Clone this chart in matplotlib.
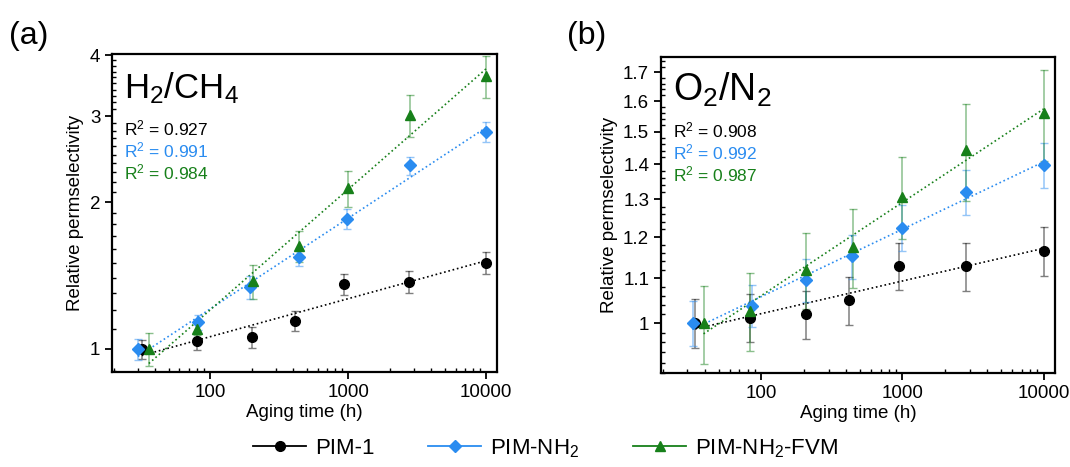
# Relative permselectivity vs aging time, dwa panele: (a) H2/CH4, (b) O2/N2
import numpy as np
import matplotlib
matplotlib.use("Agg")
import matplotlib.pyplot as plt
from matplotlib.ticker import FixedLocator, NullFormatter, LogLocator
from matplotlib.lines import Line2D

plt.rcParams['font.family'] = ['Liberation Sans', 'DejaVu Sans']
plt.rcParams['mathtext.default'] = 'regular'

# --- dane ---
labels = ['PIM-1', r'PIM-NH$_2$', r'PIM-NH$_2$-FVM']

# (a) H2/CH4
h2_t_pim1 = [32, 80, 202, 410, 930, 2770, 10000]
h2_y_pim1 = [1.0, 1.038, 1.057, 1.14, 1.357, 1.374, 1.503]
h2_e_pim1 = [0.045, 0.045, 0.053, 0.054, 0.07, 0.07, 0.08]

h2_t_nh2 = [30, 82, 194, 440, 975, 2800, 10000]
h2_y_nh2 = [1.0, 1.136, 1.338, 1.546, 1.849, 2.377, 2.78]
h2_e_nh2 = [0.05, 0.04, 0.07, 0.065, 0.09, 0.1, 0.13]

h2_t_fvm = [36, 80, 204, 440, 1000, 2800, 10000]
h2_y_fvm = [1.0, 1.099, 1.376, 1.628, 2.133, 3.02, 3.63]
h2_e_fvm = [0.078, 0.03, 0.11, 0.12, 0.18, 0.3, 0.36]

h2_r2 = ['0.927', '0.991', '0.984']

# (b) O2/N2
o2_t_pim1 = [34, 83, 206, 419, 946, 2810, 10000]
o2_y_pim1 = [1.0, 1.012, 1.019, 1.05, 1.129, 1.128, 1.165]
o2_e_pim1 = [0.052, 0.052, 0.052, 0.053, 0.057, 0.058, 0.06]

o2_t_nh2 = [32.6, 86, 206, 442, 1000, 2800, 10000]
o2_y_nh2 = [1.0, 1.038, 1.096, 1.152, 1.224, 1.321, 1.398]
o2_e_nh2 = [0.047, 0.047, 0.05, 0.054, 0.06, 0.063, 0.066]

o2_t_fvm = [39, 83, 206, 445, 1000, 2800, 10000]
o2_y_fvm = [1.0, 1.027, 1.12, 1.175, 1.307, 1.442, 1.56]
o2_e_fvm = [0.082, 0.085, 0.09, 0.097, 0.113, 0.147, 0.15]

o2_r2 = ['0.908', '0.992', '0.987']

colors = ['black', '#2a8cf0', '#17801a']
markers = ['o', 'D', '^']
msizes = [7, 6.5, 7.5]

fig = plt.figure(figsize=(10.7, 4.67), dpi=100)
ax1 = fig.add_axes([0.1047, 0.2034, 0.36, 0.681])
ax2 = fig.add_axes([0.6178, 0.2013, 0.368, 0.677])


def draw_panel(ax, series, r2, title, title_size):
    for (t, y, e), c, m, ms in zip(series, colors, markers, msizes):
        t = np.array(t)
        y = np.array(y)
        # dopasowanie potęgowe (prosta w log-log)
        a, b = np.polyfit(np.log10(t), np.log10(y), 1)
        tt = np.array([t.min(), t.max()])
        ax.plot(tt, 10 ** (a * np.log10(tt) + b), ls=':', color=c, lw=1.2, zorder=2)
        ax.errorbar(t, y, yerr=e, fmt='none', ecolor=c, alpha=0.5,
                    elinewidth=1.1, capsize=3, capthick=1, zorder=3)
        ax.plot(t, y, ls='none', marker=m, color=c, ms=ms, zorder=4)

    ax.set_xscale('log')
    ax.set_yscale('log')
    ax.set_xlim(19.5, 12000)
    ax.xaxis.set_major_locator(FixedLocator([100, 1000, 10000]))
    ax.set_xticklabels(['100', '1000', '10000'])
    ax.xaxis.set_minor_locator(LogLocator(base=10, subs=np.arange(2, 10)))
    ax.xaxis.set_minor_formatter(NullFormatter())

    ax.text(0.03, 0.86, title, transform=ax.transAxes, fontsize=title_size)
    for i, (txt, c) in enumerate(zip(r2, colors)):
        ax.text(0.03, 0.745 - i * 0.069, r'R$^2$ = ' + txt, transform=ax.transAxes,
                fontsize=12.5, color=c)

    ax.set_xlabel('Aging time (h)', fontsize=13.5, labelpad=2)
    ax.set_ylabel('Relative permselectivity', fontsize=13.5)
    ax.tick_params(which='major', direction='out', length=5, width=1.3, labelsize=13.5)
    ax.tick_params(which='minor', direction='in', length=3, width=1)
    for s in ax.spines.values():
        s.set_linewidth(1.6)


draw_panel(ax1,
           [(h2_t_pim1, h2_y_pim1, h2_e_pim1),
            (h2_t_nh2, h2_y_nh2, h2_e_nh2),
            (h2_t_fvm, h2_y_fvm, h2_e_fvm)],
           h2_r2, r'H$_2$/CH$_4$', 25)
ax1.set_ylim(0.897, 4.02)
ax1.yaxis.set_major_locator(FixedLocator([1, 2, 3, 4]))
ax1.set_yticklabels(['1', '2', '3', '4'])
ax1.yaxis.set_minor_locator(FixedLocator(np.arange(0.9, 4.01, 0.1)))
ax1.yaxis.set_minor_formatter(NullFormatter())

draw_panel(ax2,
           [(o2_t_pim1, o2_y_pim1, o2_e_pim1),
            (o2_t_nh2, o2_y_nh2, o2_e_nh2),
            (o2_t_fvm, o2_y_fvm, o2_e_fvm)],
           o2_r2, r'O$_2$/N$_2$', 27)
ax2.set_ylim(0.90, 1.757)
yt = [1, 1.1, 1.2, 1.3, 1.4, 1.5, 1.6, 1.7]
ax2.yaxis.set_major_locator(FixedLocator(yt))
ax2.set_yticklabels(['1', '1.1', '1.2', '1.3', '1.4', '1.5', '1.6', '1.7'])
ax2.yaxis.set_minor_locator(FixedLocator(np.arange(0.9, 1.76, 0.02)))
ax2.yaxis.set_minor_formatter(NullFormatter())

# literki paneli
fig.text(0.008, 0.905, '(a)', fontsize=23)
fig.text(0.530, 0.905, '(b)', fontsize=23)

# wspólna legenda na dole
handles = [Line2D([], [], color=c, marker=m, ms=ms, lw=1.3)
           for c, m, ms in zip(colors, markers, msizes)]
fig.legend(handles, labels, loc='center', bbox_to_anchor=(0.51, 0.04), ncol=3,
           frameon=False, fontsize=16, handlelength=2.4, columnspacing=2.4,
           handletextpad=0.4)

fig.savefig('out.png', dpi=100)
